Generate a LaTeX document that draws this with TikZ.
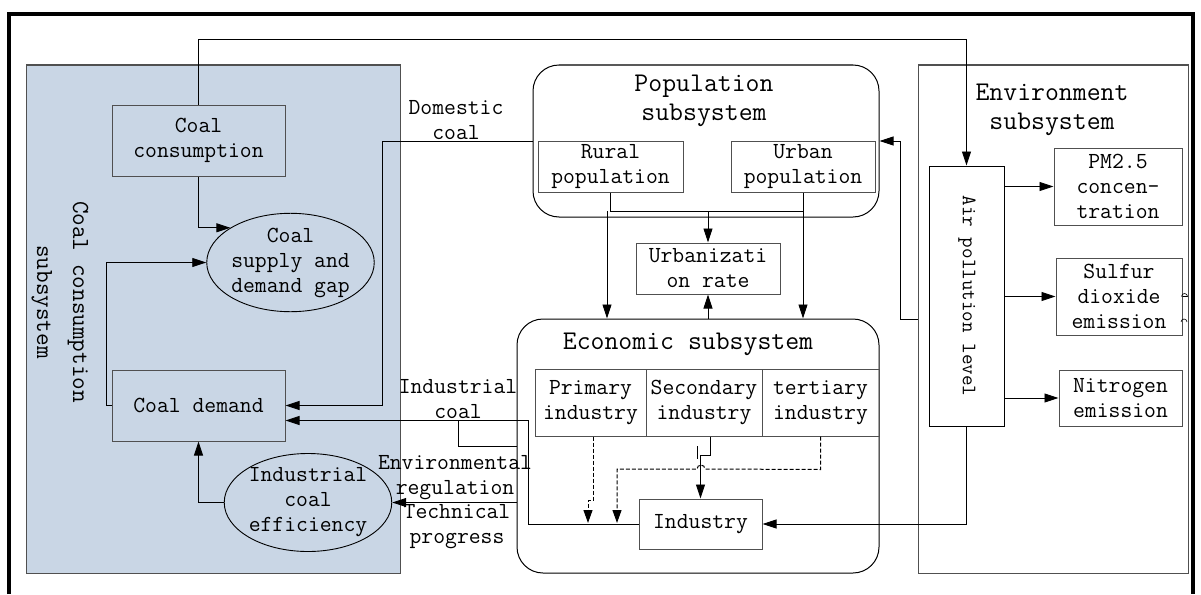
\documentclass[tikz,border=0pt]{standalone}
\usetikzlibrary{arrows.meta,shapes.geometric,calc}
\definecolor{bluebg}{RGB}{201,214,229}
\definecolor{edge}{RGB}{80,80,80}
\newcommand\fsm{\fontsize{23}{25}\selectfont\ttfamily}
\newcommand\flg{\fontsize{27}{29}\selectfont\ttfamily}
\newcommand\fvt{\fontsize{24.5}{36}\selectfont\ttfamily}
\newcommand\fair{\fontsize{20.5}{24}\selectfont\ttfamily}
\begin{document}
\begin{tikzpicture}[x=1pt,y=-1pt,
  box/.style={draw=edge,line width=1pt,inner sep=0pt,align=center,font=\fsm},
  ell/.style={ellipse,draw=black,line width=0.9pt,inner sep=0pt,align=center,font=\fsm},
  lbl/.style={inner sep=0pt,align=center,font=\fsm},
  ttl/.style={inner sep=0pt,align=center,font=\flg},
  conn/.style={line width=0.9pt,draw=black},
  arr/.style={conn,-{Triangle[length=14pt,width=9pt]}},
  darr/.style={line width=1pt,dash pattern=on 4pt off 2pt,-{Triangle[length=13pt,width=9pt]}},
  subbox/.style={draw=black,line width=1pt,inner sep=0pt,rounded corners=26pt},
]
\useasboundingbox (0,0) rectangle (1201,594);
% outer frame
\draw[line width=4pt] (9,594) -- (9,14.5) -- (1193,14.5) -- (1193,594);
% coal subsystem background
\node[draw=edge,fill=bluebg,line width=1pt,inner sep=0pt,minimum width=374pt,minimum height=508pt] (coalsub) at (213,319) {};
\node[inner sep=0pt,align=center,font=\fvt,rotate=-90] (coaltitle) at (60,302) {Coal consumption\\subsystem};
% coal nodes
\node[box,minimum width=173pt,minimum height=71pt] (cc) at (198.5,140.5) {Coal\\consumption};
\node[ell,minimum width=167pt,minimum height=91pt] (gap) at (290.5,262.5) {Coal\\supply and\\demand gap};
\node[box,minimum width=173pt,minimum height=71pt] (cd) at (198.5,405.5) {Coal demand};
\node[ell,minimum width=162pt,minimum height=91pt] (eff) at (308,502.5) {Industrial\\coal\\efficiency};
% population subsystem
\node[subbox,minimum width=346pt,minimum height=152pt] (pop) at (706,141) {};
\node[ttl] (poptitle) at (704,101) {Population\\subsystem};
\node[box,minimum width=145pt,minimum height=51pt] (rural) at (610.5,166.5) {Rural\\population};
\node[box,minimum width=144pt,minimum height=51pt] (urban) at (803,166.5) {Urban\\population};
\node[box,minimum width=144pt,minimum height=51pt] (urb) at (708,268.5) {Urbanizati\\on rate};
% economic subsystem
\node[subbox,minimum width=362pt,minimum height=254pt] (eco) at (698,446) {};
\node[ttl] (ecotitle) at (688,344) {Economic subsystem};
\node[box,minimum width=111pt,minimum height=67pt] (prim) at (590.5,402.5) {Primary\\industry};
\node[box,minimum width=116pt,minimum height=67pt] (sec) at (704,402.5) {Secondary\\industry};
\node[box,minimum width=117pt,minimum height=67pt] (ter) at (820.5,402.5) {tertiary\\industry};
\node[box,minimum width=123pt,minimum height=50pt] (indus) at (700.5,524) {Industry};
% environment subsystem
\node[draw=edge,line width=1pt,inner sep=0pt,minimum width=270pt,minimum height=508pt] (env) at (1053,319) {};
\node[ttl] (envtitle) at (1052,110) {Environment\\subsystem};
\node[draw=black,line width=1pt,inner sep=0pt,minimum width=75pt,minimum height=260pt] (air) at (966.5,296) {};
\node[inner sep=0pt,font=\fair,rotate=-90] (airtext) at (967,296) {Air pollution level};
\node[box,minimum width=128pt,minimum height=77pt] (pm) at (1118,186.5) {PM2.5\\concen-\\tration};
\node[box,minimum width=126pt,minimum height=77pt] (so2) at (1119,296.5) {Sulfur\\dioxide\\emission};
\node[box,minimum width=123pt,minimum height=56pt] (no2) at (1120.5,398) {Nitrogen\\emission};
% labels
\node[lbl] (domlbl) at (456,120) {Domestic\\coal};
\node[lbl] (indlbl) at (458,399) {Industrial\\coal};
\node[lbl] (envlbl) at (455,478) {Environmental\\regulation};
\node[lbl] (teclbl) at (457,527) {Technical\\progress};
% connectors
\draw[arr] (cc.north) -- ++(0,-65) -| (air.north);
\draw[arr] (cc.south) |- (gap.150);
\draw[arr] (cd.west) -- ++(-5,0) |- (gap.west);
\draw[arr] (pop.west) -- ++(-150,0) |- (cd.east);
\draw[arr] (indus.west) -- ++(-110,0) |- ([yshift=-15pt]cd.east);
\draw[conn] (eco.west) -- ++(-58,0) -- ++(0,-25);
\draw[arr] (eco.west |- eff.east) -- (eff.east);
\draw[arr] (eff.west) -| (cd.south);
\draw[conn] (rural.south) -- ++(0,19) -| (urban.south);
\draw[arr] (urb.north |- rural.south) ++(0,19) -- (urb.north);
\coordinate (rp) at (607,211);
\draw[arr] (rp) -- (rp |- eco.north);
\draw[arr] (urban.south) -- (urban.south |- eco.north);
\draw[arr] (eco.north -| urb.south) -- (urb.south);
\draw[arr] ([xshift=6pt]sec.south) -- ++(0,19) -| (indus.north);
\draw[conn,line width=0.7pt] (697.5,446) -- (697.5,459);
\draw[darr] ([xshift=2.5pt]prim.south) -- ++(0,64) -- ++(-5,0) -- (588,523);
\draw[darr] (ter.south) -- ++(0,33) -- (705,469) arc[start angle=0,end angle=-180,radius=4] -- (617,469) -- (617,523);
\draw[arr] (air.south) |- (indus.east);
\draw[arr] (env.west) -- ++(-17,0) |- (pop.east);
\draw[arr] (air.east |- pm.west) -- (pm.west);
\draw[arr] (air.east |- so2.west) -- (so2.west);
\draw[arr] (air.east |- no2.west) -- (no2.west);
\draw[conn,line width=0.6pt] (so2.east) -- ++(5,0) arc[start angle=180,end angle=0,radius=-3];
\draw[conn,line width=0.6pt] (1187,322) arc[start angle=180,end angle=0,radius=-3];
\end{tikzpicture}
\end{document}
